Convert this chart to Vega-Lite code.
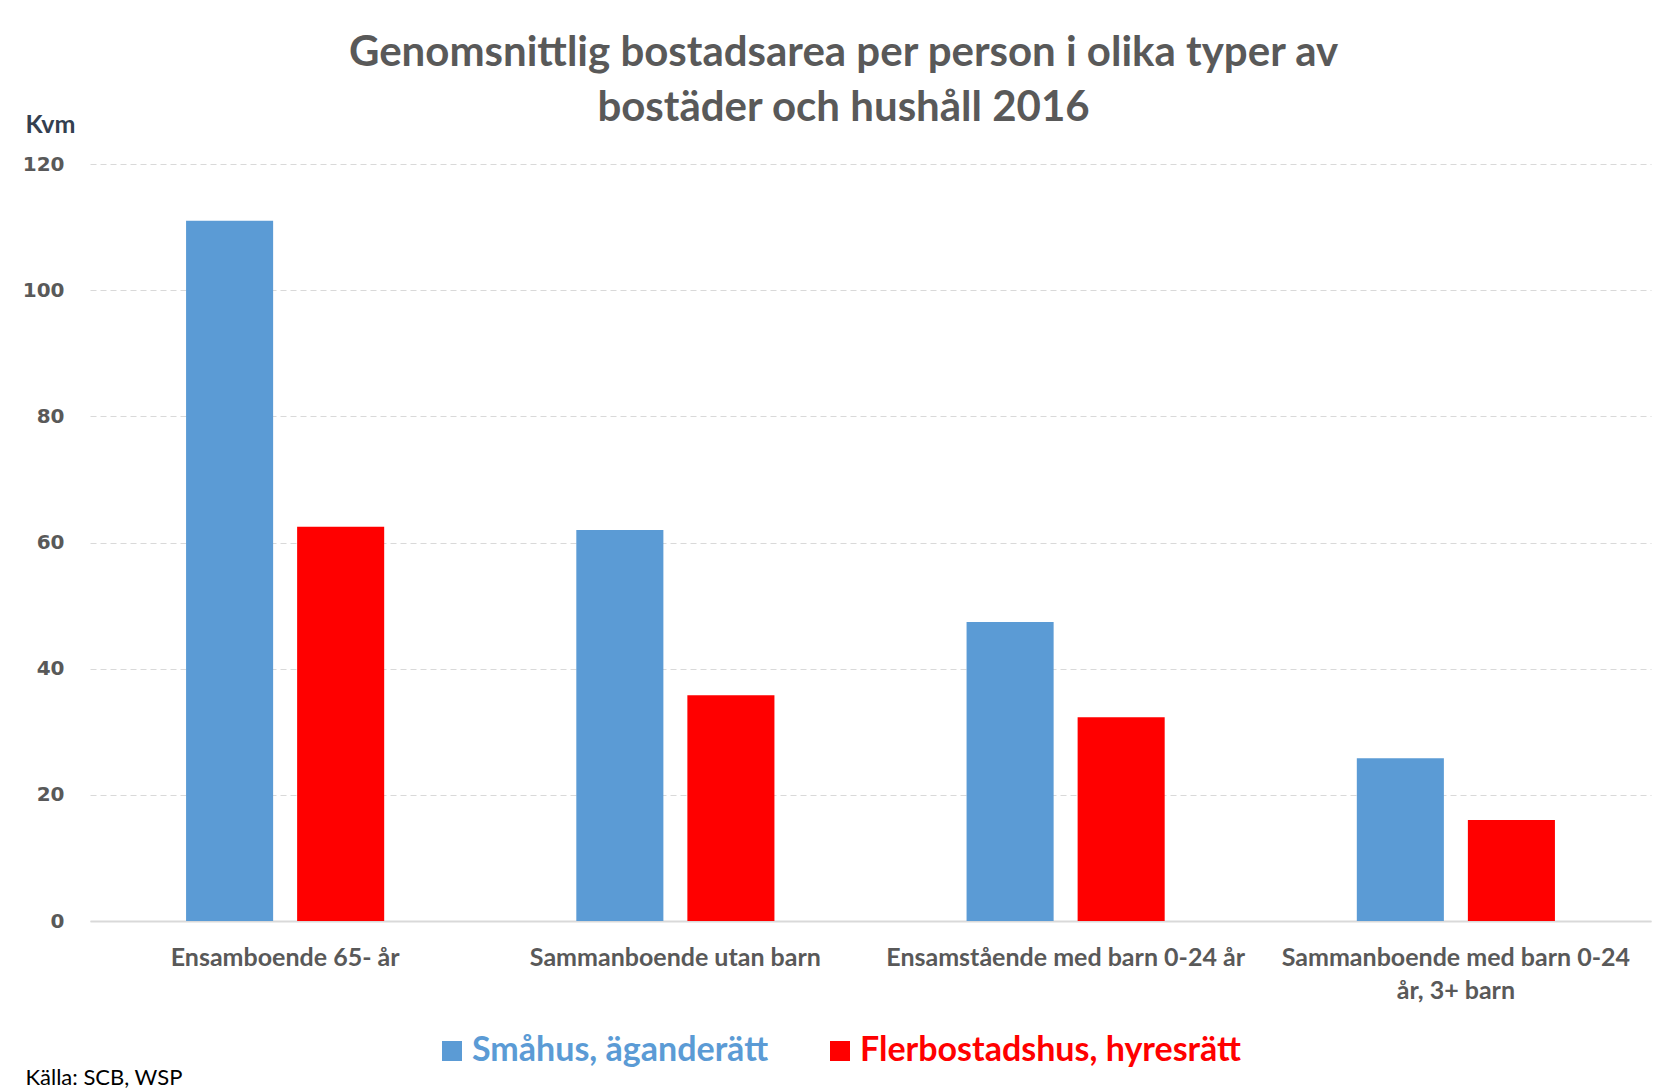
{
  "$schema": "https://vega.github.io/schema/vega-lite/v6.json",
  "width": 1561,
  "height": 757,
  "autosize": {"type": "none"},
  "padding": {"left": 90, "top": 164, "right": 11, "bottom": 167},
  "background": "white",
  "title": {
    "text": ["Genomsnittlig bostadsarea per person i olika typer av", "bostäder och hushåll 2016"],
    "anchor": "middle",
    "dx": -27,
    "dy": 58,
    "offset": 40,
    "font": "Lato",
    "fontSize": 42,
    "fontWeight": "bold",
    "color": "#595959",
    "lineHeight": 55
  },
  "data": {
    "values": [
      {"grupp": "Ensamboende 65- år", "typ": "Småhus, äganderätt", "kvm": 111},
      {"grupp": "Ensamboende 65- år", "typ": "Flerbostadshus, hyresrätt", "kvm": 62.5},
      {"grupp": "Sammanboende utan barn", "typ": "Småhus, äganderätt", "kvm": 62},
      {"grupp": "Sammanboende utan barn", "typ": "Flerbostadshus, hyresrätt", "kvm": 35.8},
      {"grupp": "Ensamstående med barn 0-24 år", "typ": "Småhus, äganderätt", "kvm": 47.4},
      {"grupp": "Ensamstående med barn 0-24 år", "typ": "Flerbostadshus, hyresrätt", "kvm": 32.3},
      {"grupp": "Sammanboende med barn 0-24 år, 3+  barn", "typ": "Småhus, äganderätt", "kvm": 25.8},
      {"grupp": "Sammanboende med barn 0-24 år, 3+  barn", "typ": "Flerbostadshus, hyresrätt", "kvm": 16}
    ]
  },
  "mark": {"type": "bar"},
  "encoding": {
    "x": {
      "field": "grupp",
      "type": "nominal",
      "sort": null,
      "scale": {"paddingInner": 0, "paddingOuter": 0},
      "axis": {
        "title": "Källa: SCB, WSP",
        "titleX": -65,
        "titleY": 156,
        "titleAlign": "left",
        "titleBaseline": "middle",
        "titleFont": "Lato",
        "titleFontSize": 22,
        "titleFontWeight": "normal",
        "titleColor": "#000000",
        "labelAngle": 0,
        "labelFont": "Lato",
        "labelFontSize": 25,
        "labelFontWeight": "bold",
        "labelColor": "#595959",
        "labelPadding": 24,
        "labelLineHeight": 33,
        "labelBaseline": "top",
        "labelLimit": 420,
        "labelExpr": "datum.value == 'Sammanboende med barn 0-24 år, 3+  barn' ? ['Sammanboende med barn 0-24', 'år, 3+  barn'] : datum.value",
        "ticks": false,
        "domainColor": "#D9D9D9",
        "domainWidth": 2,
        "grid": false
      }
    },
    "xOffset": {
      "field": "typ",
      "type": "nominal",
      "sort": ["Småhus, äganderätt", "Flerbostadshus, hyresrätt"],
      "scale": {"paddingInner": 0.216, "paddingOuter": 0.865}
    },
    "y": {
      "field": "kvm",
      "type": "quantitative",
      "scale": {"domain": [0, 120]},
      "axis": {
        "title": "Kvm",
        "titleAngle": 0,
        "titleX": -65,
        "titleY": -40,
        "titleAlign": "left",
        "titleBaseline": "middle",
        "titleFont": "Lato",
        "titleFontSize": 25,
        "titleFontWeight": "bold",
        "titleColor": "#333F50",
        "values": [0, 20, 40, 60, 80, 100, 120],
        "labelFont": "DejaVu Sans",
        "labelFontSize": 20,
        "labelFontWeight": "bold",
        "labelColor": "#595959",
        "labelPadding": 26,
        "ticks": false,
        "domain": false,
        "grid": true,
        "gridColor": "#D9D9D9",
        "gridDash": [6, 4],
        "gridWidth": 1
      }
    },
    "color": {
      "field": "typ",
      "type": "nominal",
      "sort": ["Småhus, äganderätt", "Flerbostadshus, hyresrätt"],
      "scale": {"domain": ["Småhus, äganderätt", "Flerbostadshus, hyresrätt"], "range": ["#5B9BD5", "#FF0000"]},
      "legend": {
        "title": null,
        "orient": "none",
        "direction": "horizontal",
        "legendX": 345,
        "legendY": 870,
        "symbolType": "square",
        "symbolSize": 400,
        "symbolStrokeWidth": 0,
        "labelFont": "Lato",
        "labelFontSize": 34,
        "labelFontWeight": "bold",
        "labelOffset": 3,
        "labelLimit": 600,
        "columnPadding": 54,
        "encode": {
          "labels": {"update": {"fill": {"signal": "scale('color', datum.value)"}}}
        }
      }
    }
  },
  "config": {
    "view": {"stroke": null}
  }
}
